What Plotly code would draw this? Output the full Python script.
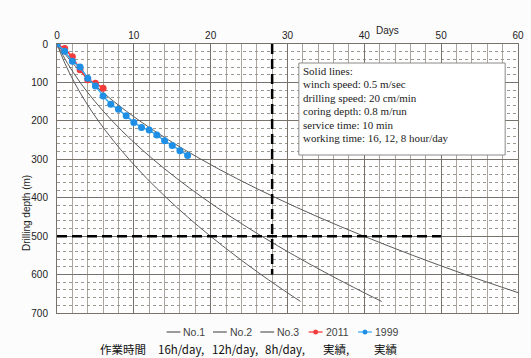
import plotly.graph_objects as go

# ---- data -------------------------------------------------------------
# Planned drilling curves (days needed to reach a given depth)
plan_depth = [0, 50, 100, 150, 200, 250, 300, 350, 400, 450, 500, 550, 600, 650, 670]
plan_days_16h = [0, 1.02, 2.26, 3.71, 5.38, 7.27, 9.38, 11.70, 14.24, 16.99,
                 19.97, 23.16, 26.56, 30.19, 31.70]
plan_days_12h = [0, 1.36, 3.01, 4.95, 7.18, 9.69, 12.50, 15.60, 18.98, 22.66,
                 26.62, 30.87, 35.42, 40.25, 42.26]
plan_depth_8h = [0, 50, 100, 150, 200, 250, 300, 350, 400, 450, 500, 550, 600, 647]
plan_days_8h = [0, 2.04, 4.51, 7.42, 10.76, 14.54, 18.75, 23.39, 28.47, 33.98,
                39.93, 46.31, 53.13, 60.0]

# Actual progress
days_2011 = [0, 1, 2, 3, 4, 5, 6]
depth_2011 = [0, 12, 33, 67, 93, 102, 115]
days_1999 = list(range(18))
depth_1999 = [0, 19, 45, 60, 89, 109, 135, 157, 170, 187, 204, 217, 224, 237,
              252, 264, 278, 290]

# Target guide lines
target_days = 28
target_days_depth_end = 600
target_depth = 500
target_depth_days_end = 50

series_names = ["No.1", "No.2", "No.3", "2011", "1999"]
bottom_labels = ["作業時間", "16h/day,", "12h/day,", "8h/day,", "実績,", "実績"]
note_lines = ["Solid lines:", "winch speed: 0.5 m/sec", "drilling speed: 20 cm/min",
              "coring depth: 0.8 m/run", "service time: 10 min",
              "working time: 16, 12, 8 hour/day"]

x_ticks = [0, 10, 20, 30, 40, 50, 60]
y_ticks = [0, 100, 200, 300, 400, 500, 600, 700]

# ---- figure geometry --------------------------------------------------
W, H = 531, 358
L, R, T, B = 57, 7, 44, 45
PW, PH = W - L - R, H - T - B


def px(x):
    return (x - L) / PW


def py(y):
    return (H - B - y) / PH


CURVE = "#5a5a5a"
RED_M, RED_L = "#f23b3b", "#ff2a2a"
BLUE_M, BLUE_L = "#1f8fe6", "#35a6f2"

fig = go.Figure()
for name, xs, ys in [("No.1", plan_days_16h, plan_depth),
                     ("No.2", plan_days_12h, plan_depth),
                     ("No.3", plan_days_8h, plan_depth_8h)]:
    fig.add_trace(go.Scatter(x=xs, y=ys, mode="lines", name=name,
                             line=dict(color=CURVE, width=1, shape="spline"),
                             showlegend=False))

# dashed target guides
fig.add_trace(go.Scatter(x=[target_days, target_days], y=[0, target_days_depth_end],
                         mode="lines", showlegend=False,
                         line=dict(color="black", width=2.5, dash="10px,5px")))
fig.add_trace(go.Scatter(x=[0, target_depth_days_end], y=[target_depth, target_depth],
                         mode="lines", showlegend=False,
                         line=dict(color="black", width=2.5, dash="10px,5px")))

fig.add_trace(go.Scatter(x=days_2011, y=depth_2011, mode="lines+markers", name="2011",
                         line=dict(color=RED_L, width=1.5),
                         marker=dict(color=RED_M, size=7), showlegend=False))
fig.add_trace(go.Scatter(x=days_1999, y=depth_1999, mode="lines+markers", name="1999",
                         line=dict(color=BLUE_L, width=1.5),
                         marker=dict(color=BLUE_M, size=7), showlegend=False))

fig.update_layout(
    width=W, height=H,
    margin=dict(l=L, r=R, t=T, b=B),
    paper_bgcolor="#fcfcfc", plot_bgcolor="white",
    font=dict(family="Arial, Liberation Sans, sans-serif", size=10, color="#222"),
    showlegend=False,
)

fig.update_xaxes(side="top", range=[0, 60], tickvals=x_ticks, ticks="",
                 showgrid=True, gridcolor="#77726b", gridwidth=1,
                 minor=dict(dtick=2, showgrid=True, gridcolor="#aaa59e", gridwidth=1),
                 showline=True, linecolor="#77726b", linewidth=1, mirror=True,
                 zeroline=False, tickfont=dict(size=10))
fig.update_yaxes(range=[700, 0], tickvals=y_ticks, ticks="",
                 showgrid=True, gridcolor="#77726b", gridwidth=1,
                 minor=dict(dtick=20, showgrid=True, gridcolor="#9c978f",
                            gridwidth=1, griddash="dot"),
                 showline=True, linecolor="#77726b", linewidth=1, mirror=True,
                 zeroline=False, tickfont=dict(size=10), ticklabelstandoff=6)

ann = []
ann.append(dict(text="Days", x=px(405), y=py(23), xref="paper", yref="paper",
                showarrow=False, font=dict(size=10)))
ann.append(dict(text="Drilling depth (m)", x=px(18), y=py(213), xref="paper",
                yref="paper", showarrow=False, textangle=-90, font=dict(size=10)))

# note box
shapes = [dict(type="rect", xref="paper", yref="paper", x0=px(302), x1=px(511),
               y0=py(155), y1=py(63), line=dict(color="#8a8a8a", width=1),
               fillcolor="white", layer="above")]
for i, line in enumerate(note_lines):
    ann.append(dict(text=line, x=px(304), y=py(71 + i * 13.4), xref="paper",
                    yref="paper", xanchor="left", yanchor="middle", showarrow=False,
                    font=dict(family="Liberation Serif, Times New Roman, serif",
                              size=11, color="#222")))

# compact legend row
legend_x = [168, 215, 263, 312, 362]
legend_style = [(CURVE, None), (CURVE, None), (CURVE, None), (RED_L, RED_M), (BLUE_L, BLUE_M)]
ly = 332
for name, x0, (lc, mc) in zip(series_names, legend_x, legend_style):
    shapes.append(dict(type="line", xref="paper", yref="paper", x0=px(x0), x1=px(x0 + 14),
                       y0=py(ly), y1=py(ly), line=dict(color=lc, width=1.2)))
    if mc:
        shapes.append(dict(type="circle", xref="paper", yref="paper",
                           x0=px(x0 + 7 - 2.5), x1=px(x0 + 7 + 2.5),
                           y0=py(ly + 2.5), y1=py(ly - 2.5),
                           fillcolor=mc, line=dict(color=mc, width=0)))
    ann.append(dict(text=name, x=px(x0 + 15), y=py(ly), xref="paper", yref="paper",
                    xanchor="left", yanchor="middle", showarrow=False,
                    font=dict(size=10.5, color="#444")))

# captions under the legend
caption_x = [100, 158, 213, 267, 325, 377]
for text, cx in zip(bottom_labels, caption_x):
    ann.append(dict(text=text, x=px(cx), y=py(349), xref="paper", yref="paper",
                    xanchor="left", yanchor="middle", showarrow=False, borderpad=0,
                    font=dict(family="Noto Sans CJK JP", size=11.5, color="#111")))

fig.update_layout(annotations=ann, shapes=shapes)
fig.write_html("out.html")
